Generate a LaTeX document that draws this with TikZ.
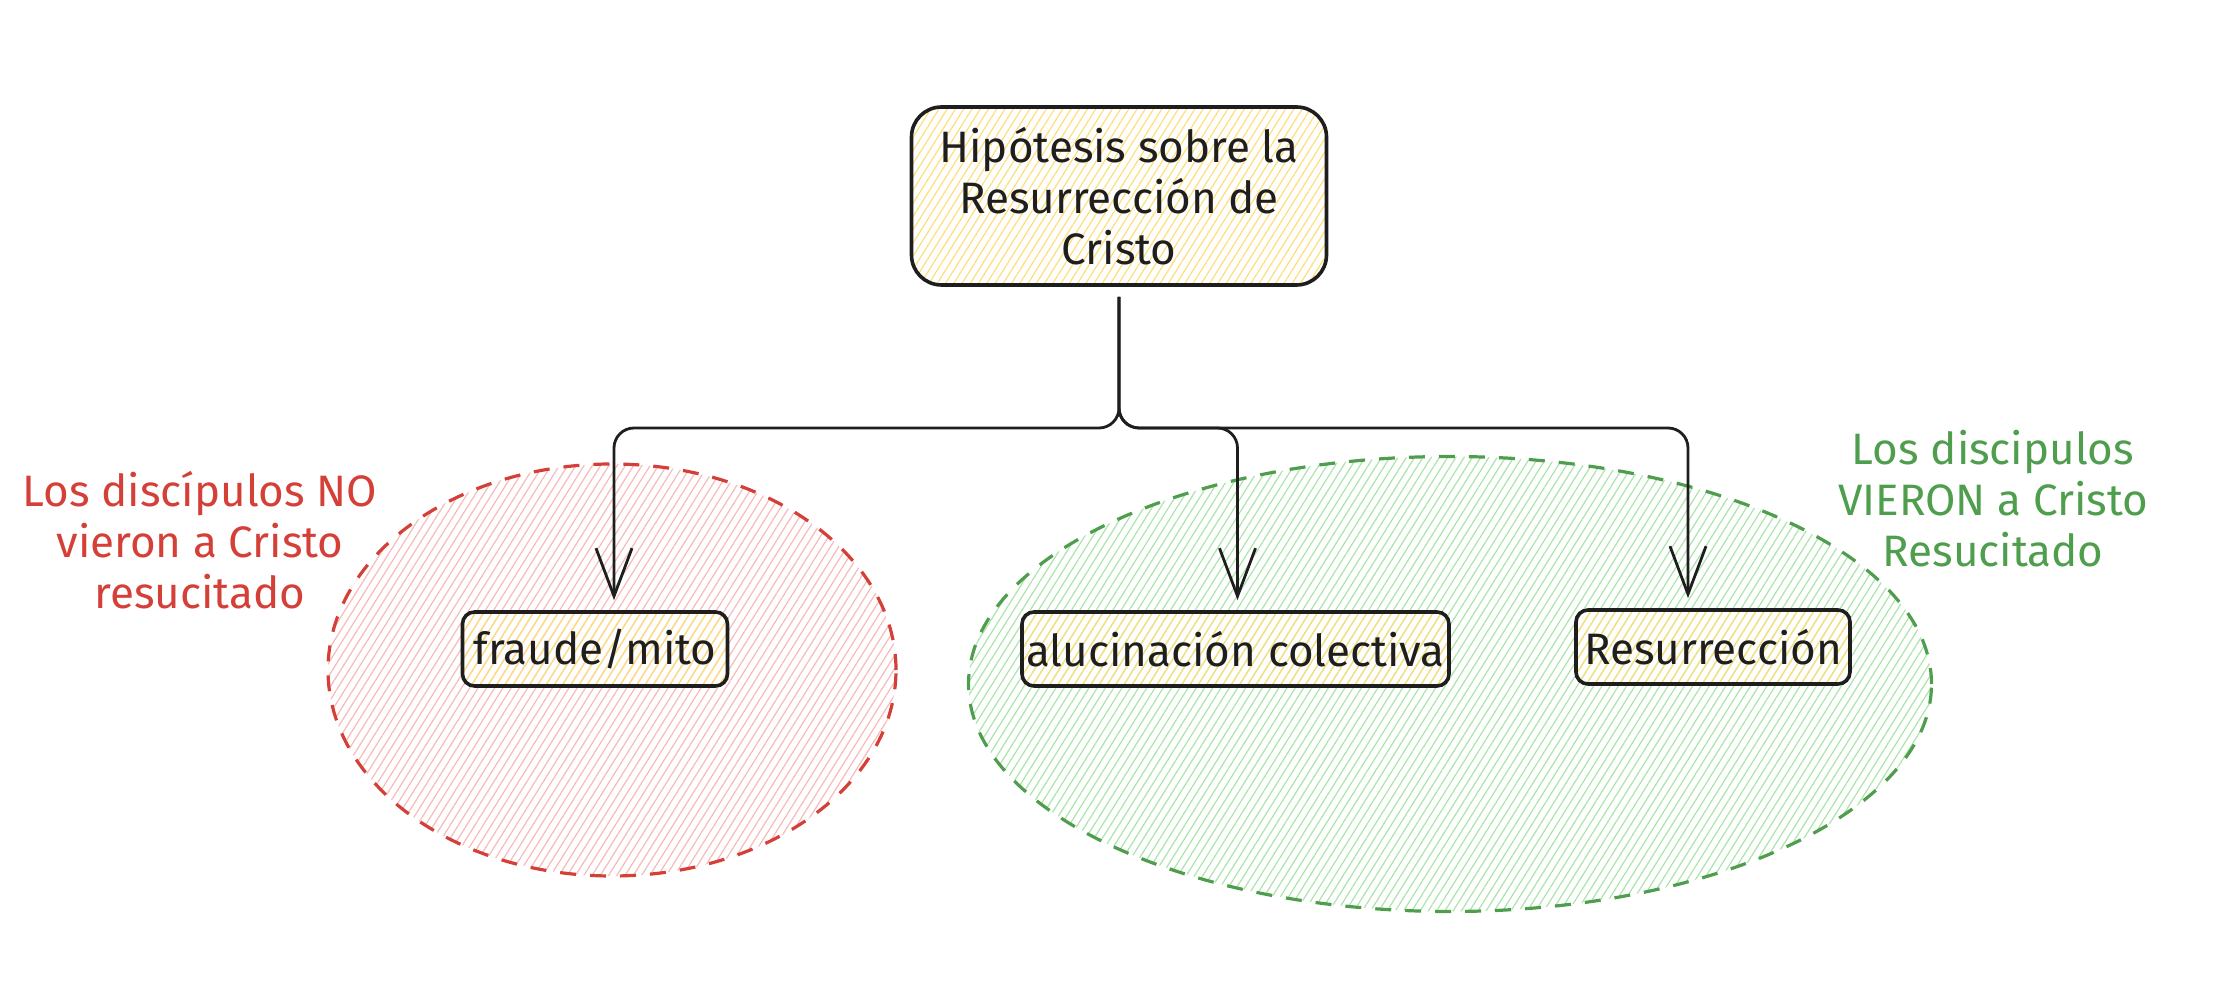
\documentclass[tikz,border=0pt]{standalone}
\usepackage{fontspec}
\setmainfont{Fira Sans}
\usetikzlibrary{patterns.meta,arrows.meta,shapes.geometric}
\definecolor{inkc}{RGB}{30,30,30}
\definecolor{redc}{RGB}{212,64,56}
\definecolor{greenc}{RGB}{78,158,78}
\definecolor{redhatch}{RGB}{247,185,185}
\definecolor{greenhatch}{RGB}{170,228,170}
\definecolor{yellowhatch}{RGB}{255,222,120}
\tikzset{
 hatch/.style={pattern={Lines[angle=58,distance=3.5pt,line width=0.6pt]}, pattern color=#1},
 zone/.style={ellipse, inner sep=0pt, draw=#1, line width=1.6pt, dash pattern=on 8pt off 7pt},
 box/.style={draw=inkc, line width=1.8pt, rounded corners=6pt, hatch=yellowhatch, font=\fontsize{22}{25.5}\selectfont, text=inkc, inner sep=0pt, align=center},
 link/.style={draw=inkc, line width=1.4pt, rounded corners=10pt, -{Straight Barb[length=24pt,width=18pt]}},
 note/.style={font=\fontsize{22}{25.5}\selectfont, align=center, inner sep=0pt}
}
\begin{document}
\begin{tikzpicture}[x=0.5pt,y=-0.5pt]
\useasboundingbox (0,0) rectangle (2224,1004);
% zones
\node (redzone) [zone=redc, hatch=redhatch, minimum width=284pt, minimum height=206pt] at (612,670) {};
\node (greenzone) [zone=greenc, hatch=greenhatch, minimum width=481.5pt, minimum height=227.5pt] at (1450,684) {};
% boxes
\node (top) [box, rounded corners=15pt, minimum width=207.5pt, minimum height=89pt] at (1119,196) {Hipótesis sobre la\\Resurrección de\\Cristo};
\node (fraude) [box, minimum width=132.5pt, minimum height=37pt] at (595,649) {fraude/mito};
\node (aluc) [box, minimum width=213.5pt, minimum height=37pt] at (1235.5,649) {alucinación colectiva};
\node (resur) [box, minimum width=137pt, minimum height=37pt] at (1713,647) {Resurrección};
% connectors
\coordinate (bus) at (1118,428);
\draw[link, shorten <=5pt] (top.south) -- (top.south |- bus) -| ([xshift=9.5pt,yshift=5pt]fraude.north);
\draw[link, shorten <=5pt] (top.south) -- (top.south |- bus) -| ([xshift=1pt,yshift=5pt]aluc.north);
\draw[link, shorten <=5pt] (top.south) -- (top.south |- bus) -| ([xshift=-12.5pt,yshift=5pt]resur.north);
% notes
\node (rednote) [note, text=redc] at (200,540) {Los discípulos NO\\vieron a Cristo\\resucitado};
\node (greennote) [note, text=greenc] at (1993,499) {Los discipulos\\VIERON a Cristo\\Resucitado};
\end{tikzpicture}
\end{document}
